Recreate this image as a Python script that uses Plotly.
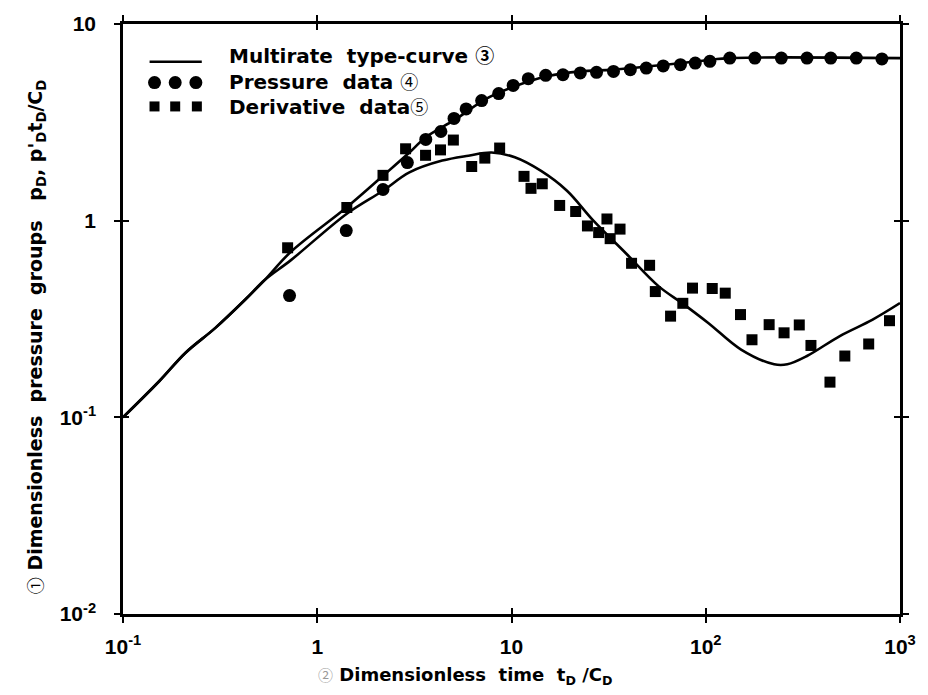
import plotly.graph_objects as go

# ---------------- data ----------------
pressure_t = [0.72, 1.41, 2.18, 2.91, 3.62, 4.33, 5.06, 5.84, 7.02, 8.59,
              10.2, 12.2, 15.0, 18.4, 22.6, 27.4, 33.5, 40.9, 49.4, 60.4,
              74.1, 88.3, 105, 133, 179, 245, 332, 440, 596, 807]
pressure_p = [0.416, 0.89, 1.44, 1.975, 2.59, 2.84, 3.31, 3.70, 4.08, 4.43,
              4.87, 5.27, 5.48, 5.52, 5.64, 5.68, 5.74, 5.86, 5.97, 6.12,
              6.21, 6.33, 6.46, 6.71, 6.71, 6.71, 6.71, 6.71, 6.71, 6.64]

deriv_t = [0.704, 1.42, 2.18, 2.85, 3.61, 4.31, 5.02, 6.24, 7.29, 8.69,
           11.6, 12.6, 14.4, 17.7, 21.4, 24.6, 28.1, 31.0, 32.2, 36.2,
           41.5, 51.4, 55.0, 65.9, 76.2, 85.5, 108, 126, 151, 173,
           212, 253, 303, 348, 436, 520, 690, 883]
deriv_p = [0.728, 1.167, 1.70, 2.32, 2.15, 2.29, 2.57, 1.885, 2.08, 2.34,
           1.68, 1.46, 1.54, 1.195, 1.113, 0.94, 0.87, 1.02, 0.81, 0.906,
           0.607, 0.593, 0.436, 0.327, 0.380, 0.454, 0.452, 0.428, 0.333, 0.248,
           0.296, 0.269, 0.295, 0.232, 0.151, 0.205, 0.236, 0.310]

curve_p_t = [0.1, 0.154, 0.210, 0.299, 0.425, 0.536, 0.732, 1.42, 2.18, 2.98,
             3.61, 5.14, 7.29, 10.4, 15.3, 22.6, 33.3, 62.1, 107, 130, 1000]
curve_p_v = [0.1, 0.153, 0.213, 0.285, 0.396, 0.499, 0.695, 1.17, 1.69, 2.22,
             2.65, 3.27, 4.13, 4.82, 5.42, 5.74, 5.86, 6.21, 6.58, 6.71, 6.71]

curve_d_t = [0.1, 0.154, 0.210, 0.299, 0.425, 0.536, 0.732, 1.42, 2.18, 2.98,
             4.40, 6.00, 7.89, 10.4, 14.2, 19.3, 26.4, 38.9, 57.5, 75.5,
             103, 152, 225, 263, 332, 490, 723, 1000]
curve_d_v = [0.1, 0.153, 0.213, 0.285, 0.396, 0.499, 0.630, 1.085, 1.42, 1.76,
             2.02, 2.14, 2.22, 2.10, 1.79, 1.42, 1.00, 0.681, 0.462, 0.381,
             0.302, 0.221, 0.186, 0.186, 0.205, 0.259, 0.314, 0.381]

x_tickvals = [0.1, 1, 10, 100, 1000]
x_ticktext = ["10<sup>-1</sup>", "1", "10", "10<sup>2</sup>", "10<sup>3</sup>"]
y_tickvals = [0.01, 0.1, 1, 10]
y_ticktext = ["10<sup>-2</sup>", "10<sup>-1</sup>", "1", "10"]

CJK = "Noto Sans CJK JP"


def circ(ch, size, color="black", weight="bold"):
    return (f"<span style='font-family:{CJK};font-size:{size}px;"
            f"color:{color};font-weight:{weight}'>{ch}</span>")


legend_labels = ["Multirate\u00a0 type-curve " + circ("\u2462", 19),
                 "Pressure\u00a0 data " + circ("\u2463", 18, weight="normal"),
                 "Derivative\u00a0 data" + circ("\u2464", 18, weight="normal")]
x_title = (circ("\u2461", 15, color="#999999", weight="normal")
           + " Dimensionless\u00a0 time\u00a0 t<sub>D</sub> /C<sub>D</sub>")
y_title = (circ("\u2460", 17, weight="normal")
           + " Dimensionless\u00a0 pressure\u00a0 groups\u00a0\u00a0 "
           "p<sub>D</sub>, p'<sub>D</sub>t<sub>D</sub>/C<sub>D</sub>")

# ---------------- layout geometry ----------------
W, H = 928, 695
ML, MR, MT, MB = 123, 16, 20, 81
PW, PH = W - ML - MR, H - MT - MB


def px_x(px):
    return (px - ML) / PW


def px_y(py):
    return (H - MB - py) / PH


TEXT_FONT = "DejaVu Sans"
TICK_FONT = "Liberation Sans"

fig = go.Figure()

line_style = dict(color="black", width=2.6, shape="spline", smoothing=1.0)
fig.add_trace(go.Scatter(x=curve_p_t, y=curve_p_v, mode="lines", line=line_style,
                         showlegend=False, hoverinfo="skip"))
fig.add_trace(go.Scatter(x=curve_d_t, y=curve_d_v, mode="lines", line=line_style,
                         showlegend=False, hoverinfo="skip"))
fig.add_trace(go.Scatter(x=pressure_t, y=pressure_p, mode="markers",
                         marker=dict(symbol="circle", size=13, color="black", line=dict(width=0)),
                         showlegend=False))
fig.add_trace(go.Scatter(x=deriv_t, y=deriv_p, mode="markers",
                         marker=dict(symbol="square", size=11, color="black", line=dict(width=0)),
                         showlegend=False))
# invisible trace to materialise the overlay axes (inner half of the cross ticks)
fig.add_trace(go.Scatter(x=curve_p_t, y=curve_p_v, xaxis="x2", yaxis="y2", mode="lines",
                         line=dict(width=0), opacity=0, showlegend=False, hoverinfo="skip"))

xr = [-1, 3]
yr = [-2, 1]
common_ax = dict(type="log", showgrid=False, zeroline=False, linecolor="black",
                 linewidth=2.5, ticklen=6, tickwidth=2, tickcolor="black")

fig.update_layout(
    width=W, height=H,
    margin=dict(l=ML, r=MR, t=MT, b=MB, pad=0),
    paper_bgcolor="white", plot_bgcolor="white",
    showlegend=False,
    xaxis=dict(**common_ax, range=xr, showline=True, mirror="ticks", ticks="outside",
               tickvals=x_tickvals, ticktext=x_ticktext,
               tickfont=dict(family=TICK_FONT, size=21, color="black", weight="bold"),
               ticklabelstandoff=6),
    yaxis=dict(**common_ax, range=yr, showline=True, mirror="ticks", ticks="outside",
               tickvals=y_tickvals, ticktext=y_ticktext,
               tickfont=dict(family=TICK_FONT, size=21, color="black", weight="bold"),
               ticklabelstandoff=14),
    xaxis2=dict(**common_ax, range=xr, overlaying="x", anchor="y2", showline=False,
                mirror="ticks", ticks="inside", tickvals=x_tickvals, showticklabels=False),
    yaxis2=dict(**common_ax, range=yr, overlaying="y", anchor="x2", showline=False,
                mirror="ticks", ticks="inside", tickvals=y_tickvals, showticklabels=False),
)

# ---------------- legend (drawn) ----------------
shapes = []
shapes.append(dict(type="line", xref="paper", yref="paper",
                   x0=px_x(150), x1=px_x(203), y0=px_y(58), y1=px_y(58),
                   line=dict(color="black", width=2.6)))
for cx in (155, 176, 197):
    shapes.append(dict(type="circle", xref="paper", yref="paper",
                       xsizemode="pixel", ysizemode="pixel",
                       xanchor=px_x(cx), yanchor=px_y(79),
                       x0=-6.5, x1=6.5, y0=-6.5, y1=6.5,
                       fillcolor="black", line=dict(width=0)))
for cx in (155, 176, 198):
    shapes.append(dict(type="rect", xref="paper", yref="paper",
                       xsizemode="pixel", ysizemode="pixel",
                       xanchor=px_x(cx), yanchor=px_y(103),
                       x0=-5, x1=5, y0=-5, y1=5,
                       fillcolor="black", line=dict(width=0)))
fig.update_layout(shapes=shapes)

annotations = []
for lbl, cy in zip(legend_labels, (51, 77, 102.5)):
    annotations.append(dict(text=lbl, xref="paper", yref="paper",
                            x=px_x(229), y=px_y(cy), xanchor="left", yanchor="middle",
                            showarrow=False,
                            font=dict(family=TEXT_FONT, size=20, color="black", weight="bold")))
annotations.append(dict(text=x_title, xref="paper", yref="paper",
                        x=px_x(470), y=px_y(676), xanchor="center", yanchor="middle",
                        showarrow=False,
                        font=dict(family=TEXT_FONT, size=18, color="black", weight="bold")))
annotations.append(dict(text=y_title, xref="paper", yref="paper",
                        x=px_x(35), y=px_y(335), xanchor="center", yanchor="middle",
                        textangle=-90, showarrow=False,
                        font=dict(family=TEXT_FONT, size=19, color="black", weight="bold")))
fig.update_layout(annotations=annotations)

fig.write_html("out.html")
